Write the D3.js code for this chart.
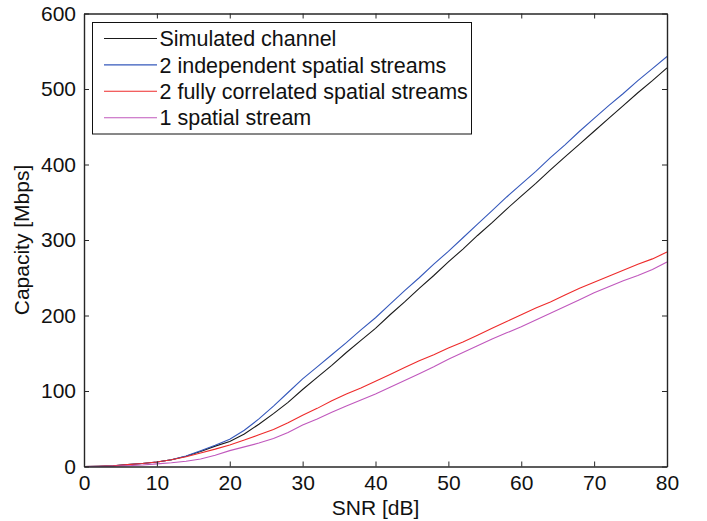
<!DOCTYPE html>
<html><head><meta charset="utf-8">
<script src="https://cdn.jsdelivr.net/npm/d3@7"></script>
<style>body{margin:0;background:#fff}svg{display:block}text{font-family:"Liberation Sans",Arial,Helvetica,sans-serif}</style>
</head><body><svg id="c" width="707" height="521"></svg>
<script>
const snr = d3.range(0, 81, 2);
const simulated = [0,0.3,1,2.5,4,6,9,13.5,20,27,33,43,56,70,85,102,118,134,151,167,183,201,218,236,253,271,288,306,323,341,358,375,393,410,427,444,461,478,495,511,528];
const independent = [0,0.3,1,2.5,4,6,9,14,21,28,36,48,63,80,98,116,132,148,164,181,197,215,233,250,268,285,303,321,339,357,374,391,409,426,444,461,478,494,511,527,543];
const correlated = [0,0.3,1,2.5,4,6,9,13,18,23,28.5,35,42,49,58,68,77,87,96,104,113,122,131,140,148,157,165,174,183,192,201,210,218,227,236,244,252,260,268,275,284];
const single = [0,0.1,0.4,1,2,3.5,5,7,10,15,21,26,31,37,45,55,63,72,80,88,96,105,114,123,132,142,151,160,169,177,185,194,203,212,221,230,238,246,253,261,271];
const seriesNames = ["Simulated channel","2 independent spatial streams","2 fully correlated spatial streams","1 spatial stream"];
const seriesColors = ["#1a1a1a","#3558bb","#ee2b2b","#c058bd"];
const xTicks = [0,10,20,30,40,50,60,70,80];
const yTicks = [0,100,200,300,400,500,600];
const xLabel = "SNR [dB]", yLabel = "Capacity [Mbps]";

const svg = d3.select("#c");
const L = 84, R = 667, T = 13.5, B = 466.5;
const x = d3.scaleLinear().domain([0,80]).range([L,R]);
const y = d3.scaleLinear().domain([0,600]).range([B,T]);
const axCol = "#262626", fs = 21;

const data = [simulated, independent, correlated, single];
const line = d3.line().x((d,i)=>x(snr[i])).y(d=>y(d));
data.forEach((s,k)=>{
  svg.append("path").datum(s).attr("d",line).attr("fill","none")
    .attr("stroke",seriesColors[k]).attr("stroke-width",1.1);
});

function styleAx(g, labels){
  g.select(".domain").attr("stroke",axCol).attr("stroke-width",1.4);
  g.selectAll(".tick line").attr("stroke",axCol).attr("stroke-width",1);
  g.selectAll(".tick text").attr("fill","#111").style("font-size",fs+"px");
  if(!labels) g.selectAll(".tick text").remove();
}
svg.append("g").attr("transform",`translate(0,${B})`)
  .call(d3.axisBottom(x).tickValues(xTicks).tickSize(-5).tickSizeOuter(0).tickPadding(9))
  .call(g=>styleAx(g,true));
svg.append("g").attr("transform",`translate(0,${T})`)
  .call(d3.axisTop(x).tickValues(xTicks).tickSize(-5).tickSizeOuter(0))
  .call(g=>styleAx(g,false));
svg.append("g").attr("transform",`translate(${L},0)`)
  .call(d3.axisLeft(y).tickValues(yTicks).tickSize(-5).tickSizeOuter(0).tickPadding(8))
  .call(g=>styleAx(g,true));
svg.append("g").attr("transform",`translate(${R},0)`)
  .call(d3.axisRight(y).tickValues(yTicks).tickSize(-5).tickSizeOuter(0))
  .call(g=>styleAx(g,false));

svg.append("text").attr("x",(L+R)/2).attr("y",515).attr("text-anchor","middle")
  .style("font-size",fs+"px").attr("fill","#111").text(xLabel);
svg.append("text").attr("transform",`translate(29,${(T+B)/2}) rotate(-90)`).attr("text-anchor","middle")
  .style("font-size",fs+"px").attr("fill","#111").text(yLabel);

// legend
const lg = svg.append("g");
lg.append("rect").attr("x",92.5).attr("y",22.5).attr("width",379).attr("height",111.5)
  .attr("fill","#fff").attr("stroke","#111").attr("stroke-width",1);
seriesNames.forEach((n,k)=>{
  const yy = 38.5 + k*26.4;
  lg.append("line").attr("x1",104).attr("x2",157).attr("y1",yy).attr("y2",yy)
    .attr("stroke",seriesColors[k]).attr("stroke-width",1.1);
  lg.append("text").attr("x",159.5).attr("y",yy).attr("dy","0.36em")
    .style("font-size","21.5px").attr("fill","#111").text(n);
});
</script></body></html>
